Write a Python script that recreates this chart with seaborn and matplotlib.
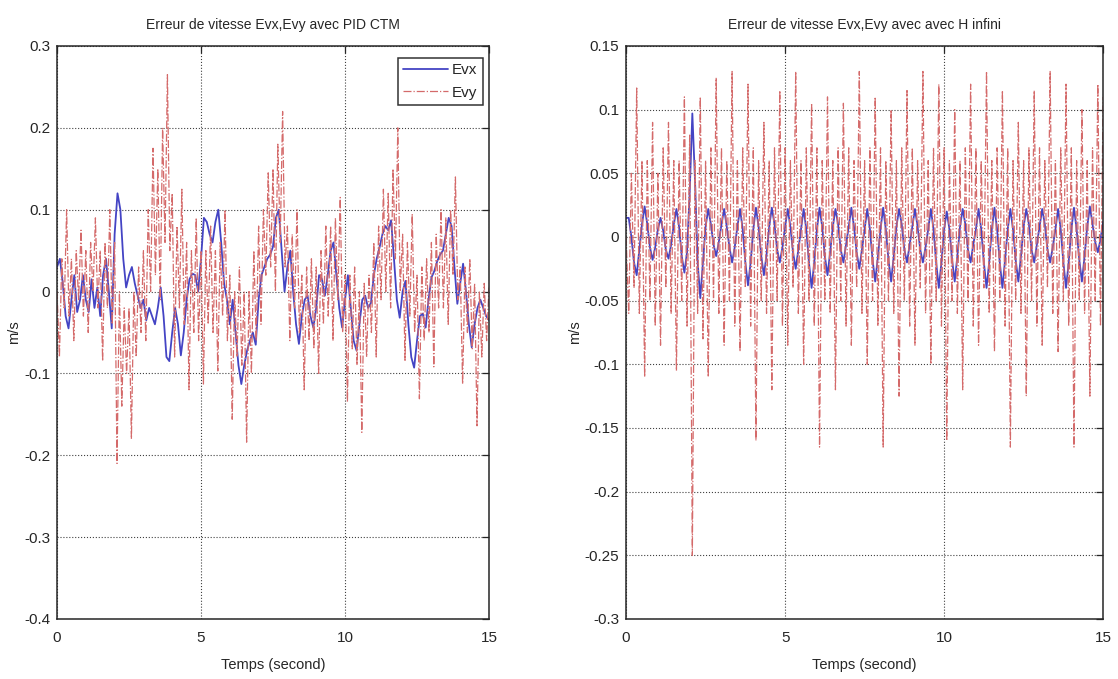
import numpy as np
import pandas as pd
import matplotlib
matplotlib.use("Agg")
import matplotlib.pyplot as plt
import seaborn as sns

# ---------------- data ----------------
# Left panel (PID CTM): Evx sampled every 0.1 s, Evy every 1/12 s
dt_evx_pid = 0.1
evx_pid = [
    0.03, 0.04, 0.01, -0.03, -0.045, -0.01, 0.02, -0.025, -0.01, 0.02,
    -0.01, -0.025, 0.015, -0.02, 0.005, -0.03, 0.02, 0.04, 0.0, -0.045,
    0.07, 0.12, 0.1, 0.04, 0.005, 0.02, 0.03, 0.01, -0.005, -0.02,
    -0.01, -0.035, -0.02, -0.03, -0.04, -0.02, 0.005, -0.03, -0.08, -0.085,
    -0.05, -0.02, -0.04, -0.078, -0.05, -0.01, 0.015, 0.022, 0.02, 0.0,
    0.04, 0.09, 0.085, 0.07, 0.06, 0.085, 0.1, 0.06, 0.01, -0.01,
    -0.04, -0.01, -0.05, -0.09, -0.113, -0.09, -0.072, -0.06, -0.05, -0.065,
    -0.01, 0.02, 0.03, 0.04, 0.045, 0.055, 0.09, 0.1, 0.05, 0.0,
    0.03, 0.05, 0.0, -0.04, -0.064, -0.03, -0.01, -0.005, -0.03, -0.044,
    -0.02, 0.02, 0.015, -0.005, 0.02, 0.05, 0.06, 0.02, -0.02, -0.044,
    -0.01, 0.02, -0.02, -0.06, -0.072, -0.04, -0.01, -0.005, -0.02, -0.014,
    0.02, 0.04, 0.054, 0.07, 0.08, 0.075, 0.087, 0.04, -0.01, -0.032,
    0.0, 0.013, -0.04, -0.08, -0.093, -0.06, -0.03, -0.027, -0.044, -0.01,
    0.017, 0.025, 0.037, 0.045, 0.05, 0.07, 0.09, 0.08, 0.03, -0.015,
    0.01, 0.034, 0.0, -0.04, -0.068, -0.04, -0.02, -0.01, -0.02, -0.03,
    -0.035,
]

dt_fast = 1.0 / 12.0
evy_pid = [
    0.0, -0.08, 0.04, -0.02, 0.1, -0.03,
    0.04, -0.06, 0.05, -0.01, 0.075, -0.03,
    0.05, -0.05, 0.06, 0.0, 0.09, -0.02,
    0.05, -0.085, 0.06, -0.02, 0.1, -0.04,
    0.06, -0.21, 0.0, -0.14, -0.02, -0.1,
    -0.02, -0.18, 0.0, -0.08, 0.03, -0.05,
    0.05, -0.06, 0.1, 0.0, 0.175, 0.02,
    0.15, -0.01, 0.2, 0.06, 0.265, 0.05,
    0.12, -0.08, 0.08, -0.02, 0.125, -0.04,
    0.06, -0.12, 0.05, -0.05, 0.09, -0.06,
    0.05, -0.113, 0.05, -0.04, 0.08, -0.05,
    0.05, -0.097, 0.06, -0.03, 0.1, -0.06,
    0.02, -0.156, 0.0, -0.08, 0.03, -0.09,
    0.0, -0.184, 0.0, -0.1, 0.05, -0.06,
    0.08, -0.04, 0.1, 0.02, 0.145, 0.03,
    0.15, 0.0, 0.18, 0.06, 0.22, 0.03,
    0.08, -0.06, 0.07, -0.02, 0.1, -0.05,
    0.02, -0.12, 0.03, -0.06, 0.04, -0.07,
    0.03, -0.1, 0.05, -0.04, 0.08, -0.03,
    0.08, -0.06, 0.09, -0.01, 0.115, -0.05,
    0.02, -0.135, 0.02, -0.07, 0.03, -0.09,
    0.0, -0.172, 0.01, -0.08, 0.02, -0.05,
    0.06, -0.08, 0.08, -0.01, 0.125, 0.0,
    0.12, -0.02, 0.15, 0.04, 0.2, 0.0,
    0.07, -0.084, 0.06, -0.03, 0.095, -0.05,
    0.02, -0.131, 0.03, -0.06, 0.04, -0.05,
    0.06, -0.092, 0.07, -0.02, 0.1, -0.02,
    0.09, -0.04, 0.1, 0.02, 0.14, -0.01,
    0.03, -0.113, 0.03, -0.05, 0.04, -0.07,
    0.01, -0.164, 0.0, -0.08, 0.01, -0.06,
    0.005,
]

# Right panel (H infini): both signals sampled every 1/12 s
evx_hinf = [
    0.015, 0.015, 0.0, -0.02, -0.03, -0.01,
    0.01, 0.024, 0.01, -0.008, -0.018, -0.008,
    0.006, 0.015, 0.005, -0.01, -0.017, -0.006,
    0.01, 0.022, 0.008, -0.015, -0.028, -0.012,
    0.035, 0.097, 0.045, -0.02, -0.048, -0.02,
    0.008, 0.022, 0.01, -0.006, -0.015, -0.004,
    0.01, 0.022, 0.008, -0.008, -0.02, -0.008,
    0.008, 0.022, 0.006, -0.02, -0.038, -0.02,
    0.006, 0.023, 0.008, -0.015, -0.03, -0.014,
    0.008, 0.023, 0.01, -0.01, -0.02, -0.008,
    0.008, 0.022, 0.008, -0.012, -0.025, -0.01,
    0.006, 0.022, 0.006, -0.02, -0.04, -0.02,
    0.006, 0.023, 0.008, -0.015, -0.03, -0.012,
    0.008, 0.022, 0.01, -0.01, -0.02, -0.006,
    0.008, 0.023, 0.008, -0.012, -0.025, -0.01,
    0.006, 0.022, 0.006, -0.018, -0.035, -0.016,
    0.006, 0.023, 0.006, -0.018, -0.035, -0.015,
    0.008, 0.022, 0.01, -0.01, -0.02, -0.006,
    0.008, 0.022, 0.008, -0.01, -0.02, -0.008,
    0.006, 0.022, 0.006, -0.02, -0.04, -0.02,
    0.006, 0.02, 0.006, -0.018, -0.035, -0.015,
    0.008, 0.022, 0.01, -0.01, -0.02, -0.006,
    0.006, 0.022, 0.006, -0.02, -0.04, -0.02,
    0.006, 0.023, 0.006, -0.02, -0.04, -0.018,
    0.006, 0.022, 0.006, -0.018, -0.035, -0.015,
    0.008, 0.022, 0.01, -0.01, -0.02, -0.006,
    0.008, 0.022, 0.01, -0.01, -0.02, -0.008,
    0.006, 0.022, 0.006, -0.02, -0.04, -0.02,
    0.006, 0.023, 0.006, -0.018, -0.035, -0.015,
    0.008, 0.024, 0.01, -0.004, -0.012, -0.002,
    0.012,
]

evy_hinf = [
    0.0, -0.06, 0.05, -0.04, 0.117, -0.06,
    0.06, -0.11, 0.06, -0.05, 0.09, -0.07,
    0.05, -0.085, 0.07, -0.04, 0.09, -0.06,
    0.06, -0.105, 0.06, -0.05, 0.11, -0.07,
    0.08, -0.25, 0.06, -0.06, 0.11, -0.08,
    0.06, -0.11, 0.07, -0.05, 0.125, -0.06,
    0.07, -0.085, 0.06, -0.05, 0.13, -0.07,
    0.06, -0.09, 0.07, -0.04, 0.12, -0.07,
    0.07, -0.16, 0.06, -0.05, 0.09, -0.06,
    0.06, -0.12, 0.07, -0.05, 0.115, -0.07,
    0.07, -0.085, 0.06, -0.04, 0.13, -0.06,
    0.06, -0.1, 0.07, -0.05, 0.105, -0.07,
    0.07, -0.165, 0.06, -0.05, 0.11, -0.06,
    0.06, -0.12, 0.07, -0.05, 0.105, -0.07,
    0.07, -0.085, 0.06, -0.04, 0.13, -0.06,
    0.06, -0.1, 0.07, -0.05, 0.11, -0.07,
    0.07, -0.165, 0.06, -0.05, 0.1, -0.06,
    0.06, -0.125, 0.07, -0.05, 0.115, -0.07,
    0.07, -0.085, 0.06, -0.04, 0.13, -0.06,
    0.06, -0.1, 0.07, -0.05, 0.12, -0.07,
    0.07, -0.16, 0.06, -0.05, 0.1, -0.06,
    0.06, -0.12, 0.07, -0.05, 0.12, -0.07,
    0.07, -0.085, 0.06, -0.04, 0.13, -0.06,
    0.06, -0.09, 0.07, -0.05, 0.115, -0.07,
    0.07, -0.165, 0.06, -0.05, 0.09, -0.06,
    0.06, -0.125, 0.07, -0.05, 0.115, -0.07,
    0.07, -0.085, 0.06, -0.04, 0.13, -0.06,
    0.06, -0.09, 0.07, -0.05, 0.12, -0.07,
    0.07, -0.165, 0.06, -0.05, 0.1, -0.06,
    0.06, -0.125, 0.07, -0.05, 0.12, -0.07,
    0.11,
]

x_ticks = [0, 5, 10, 15]
x_tick_labels = ["0", "5", "10", "15"]
y_ticks_pid = [-0.4, -0.3, -0.2, -0.1, 0.0, 0.1, 0.2, 0.3]
y_tick_labels_pid = ["-0.4", "-0.3", "-0.2", "-0.1", "0", "0.1", "0.2", "0.3"]
y_ticks_hinf = [-0.3, -0.25, -0.2, -0.15, -0.1, -0.05, 0.0, 0.05, 0.1, 0.15]
y_tick_labels_hinf = ["-0.3", "-0.25", "-0.2", "-0.15", "-0.1", "-0.05", "0",
                      "0.05", "0.1", "0.15"]

title_pid = "Erreur de vitesse Evx,Evy avec PID CTM"
title_hinf = "Erreur de vitesse Evx,Evy avec avec H infini"
x_label = "Temps (second)"
y_label = "m/s"
legend_labels = ["Evx", "Evy"]

# ---------------- style ----------------
sns.set_theme(style="white")
plt.rcParams["font.family"] = ["Liberation Sans Narrow", "Liberation Sans", "DejaVu Sans"]
plt.rcParams["axes.unicode_minus"] = False

BLUE = "#4444c4"
RED = "#d46a6a"
INK = "#262626"


def series_frame(values, dt):
    n = len(values)
    return pd.DataFrame({"t": np.round(np.arange(n) * dt, 6), "v": values})


fig = plt.figure(figsize=(11.18, 6.79), dpi=100)
ax_l = fig.add_axes([0.051, 0.0884, 0.3864, 0.8439])
ax_r = fig.add_axes([0.560, 0.0884, 0.4267, 0.8439])

panels = [
    (ax_l, evx_pid, dt_evx_pid, evy_pid, dt_fast, title_pid,
     (-0.4, 0.3), y_ticks_pid, y_tick_labels_pid, True),
    (ax_r, evx_hinf, dt_fast, evy_hinf, dt_fast, title_hinf,
     (-0.3, 0.15), y_ticks_hinf, y_tick_labels_hinf, False),
]

for ax, vx, dtx, vy, dty, title, ylim, yt, ytl, show_legend in panels:
    dfx = series_frame(vx, dtx)
    dfy = series_frame(vy, dty)
    sns.lineplot(data=dfx, x="t", y="v", ax=ax, color=BLUE, linewidth=1.3,
                 estimator=None, sort=False, label=legend_labels[0])
    sns.lineplot(data=dfy, x="t", y="v", ax=ax, color=RED, linewidth=0.9,
                 linestyle="-.", estimator=None, sort=False,
                 label=legend_labels[1])

    ax.set_xlim(0, 15)
    ax.set_ylim(*ylim)
    ax.set_xticks(x_ticks)
    ax.set_xticklabels(x_tick_labels)
    ax.set_yticks(yt)
    ax.set_yticklabels(ytl)
    ax.grid(True, linestyle=":", color="black", linewidth=0.8, alpha=0.75)
    ax.tick_params(direction="in", top=True, right=True, length=5, width=0.9,
                   labelsize=11, colors=INK, pad=5)
    ax.tick_params(axis="x", pad=9)
    for sp in ax.spines.values():
        sp.set_color(INK)
        sp.set_linewidth(1.1)
    ax.set_title(title, fontsize=10, pad=12, color=INK)
    ax.set_xlabel(x_label, fontsize=10.5, labelpad=9, color=INK)
    ax.set_ylabel(y_label, fontsize=10.5, labelpad=2, color=INK)

    if show_legend:
        leg = ax.legend(loc="upper right", bbox_to_anchor=(0.986, 0.979),
                        fontsize=11, frameon=True, fancybox=False,
                        edgecolor="black", handlelength=2.9,
                        handletextpad=0.3, borderpad=0.35,
                        borderaxespad=0.0, labelspacing=0.55)
        leg.get_frame().set_linewidth(1.1)
    else:
        ax.get_legend().remove()

fig.savefig("out.png", dpi=100, facecolor="white")
